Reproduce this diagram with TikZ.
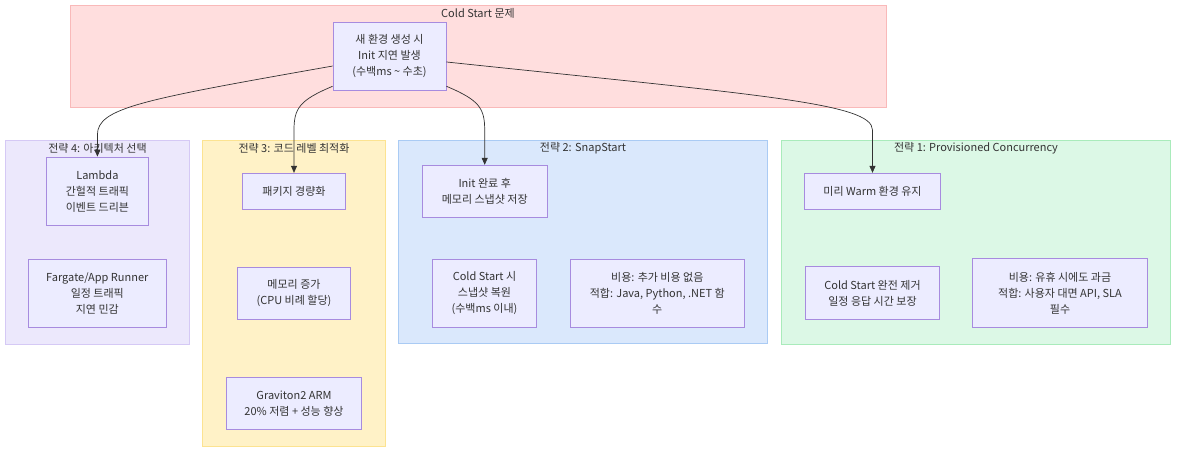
\documentclass[tikz,border=0pt]{standalone}
\usepackage{fontspec}
\setmainfont{Noto Sans CJK KR}
\usetikzlibrary{arrows.meta}
\definecolor{txt}{HTML}{333333}
\definecolor{nfill}{HTML}{ECECFF}
\definecolor{ndraw}{HTML}{A78BDF}
\definecolor{topfill}{HTML}{FFDEDE}
\definecolor{topdraw}{HTML}{F9B9B9}
\definecolor{cfourfill}{HTML}{ECE8FC}
\definecolor{cfourdraw}{HTML}{D5C9F5}
\definecolor{cthreefill}{HTML}{FFF2C7}
\definecolor{cthreedraw}{HTML}{FCE391}
\definecolor{ctwofill}{HTML}{DAE8FC}
\definecolor{ctwodraw}{HTML}{AACBF4}
\definecolor{conefill}{HTML}{DCF8E6}
\definecolor{conedraw}{HTML}{A9EBBB}
\tikzset{
  boxnode/.style={draw=ndraw, fill=nfill, line width=0.9pt, align=center, inner sep=0pt,
    font=\fontsize{11}{16}\selectfont, text=txt},
  clusterbox/.style={line width=0.9pt},
  ctitle/.style={font=\fontsize{11}{14}\selectfont, text=txt, inner sep=0pt},
  conn/.style={draw=txt, line width=0.7pt, -{Triangle[length=7pt,width=6pt]}},
}
\begin{document}
\begin{tikzpicture}[x=1pt,y=-1pt]
\useasboundingbox (0,0) rectangle (1184,455);
% clusters
\draw[clusterbox, draw=topdraw, fill=topfill] (70.4,5.3) rectangle (886.3,107.3);
\node[ctitle] (ttop) at (478,13.5) {Cold Start 문제};
\draw[clusterbox, draw=cfourdraw, fill=cfourfill] (5.4,140.3) rectangle (189.7,344.3);
\node[ctitle] (tfour) at (97.5,148) {전략 4: 아키텍처 선택};
\draw[clusterbox, draw=cthreedraw, fill=cthreefill] (202.3,140.3) rectangle (385.7,446.7);
\node[ctitle] (tthree) at (294,148) {전략 3: 코드 레벨 최적화};
\draw[clusterbox, draw=ctwodraw, fill=ctwofill] (398.3,140.3) rectangle (767.7,343.3);
\node[ctitle] (ttwo) at (583,148) {전략 2: SnapStart};
\draw[clusterbox, draw=conedraw, fill=conefill] (781,140.3) rectangle (1170.7,344);
\node[ctitle] (tone) at (976,148) {전략 1: Provisioned Concurrency};
% nodes
\node[boxnode, minimum width=113pt, minimum height=68pt] (top) at (389.5,56) {새 환경 생성 시\\Init 지연 발생\\(수백ms \textasciitilde{} 수초)};
\node[boxnode, minimum width=102pt, minimum height=68.5pt] (lam) at (97.4,191.3) {Lambda\\간헐적 트래픽\\이벤트 드리븐};
\node[boxnode, minimum width=138pt, minimum height=68pt] (far) at (97.3,293.2) {Fargate/App Runner\\일정 트래픽\\지연 민감};
\node[boxnode, minimum width=103pt, minimum height=36pt] (pkg) at (294,191.3) {패키지 경량화};
\node[boxnode, minimum width=113.4pt, minimum height=52.3pt] (mem) at (294,293.2) {메모리 증가\\(CPU 비례 할당)};
\node[boxnode, minimum width=135.4pt, minimum height=52.4pt] (grav) at (294,403.5) {Graviton2 ARM\\20\% 저렴 + 성능 향상};
\node[boxnode, minimum width=125.3pt, minimum height=52pt] (init) at (484.7,191.3) {Init 완료 후\\메모리 스냅샷 저장};
\node[boxnode, minimum width=104.4pt, minimum height=68.3pt] (csr) at (484.5,293.2) {Cold Start 시\\스냅샷 복원\\(수백ms 이내)};
\node[boxnode, minimum width=174pt, minimum height=68.3pt] (costtwo) at (657.3,293.2) {비용: 추가 비용 없음\\적합: Java, Python, .NET 함\\수};
\node[boxnode, minimum width=136.4pt, minimum height=36pt] (warm) at (872.5,191.3) {미리 Warm 환경 유지};
\node[boxnode, minimum width=134.4pt, minimum height=52.6pt] (rem) at (872.5,293) {Cold Start 완전 제거\\일정 응답 시간 보장};
\node[boxnode, minimum width=174.6pt, minimum height=68.6pt] (costone) at (1060,293) {비용: 유휴 시에도 과금\\적합: 사용자 대면 API, SLA\\필수};
% connectors
\draw[conn] (top.190) .. controls (140,100) and (97.4,108) .. (97.4,135) -- (lam.north);
\draw[conn] (top.208) .. controls (300,100) and (294,108) .. (294,130) -- (pkg.north);
\draw[conn] (top.-28) .. controls (479,100) and (484.7,108) .. (484.7,130) -- (init.north);
\draw[conn] (top.-6) .. controls (760,95) and (872.5,103) .. (872.5,130) -- (warm.north);
\end{tikzpicture}
\end{document}
